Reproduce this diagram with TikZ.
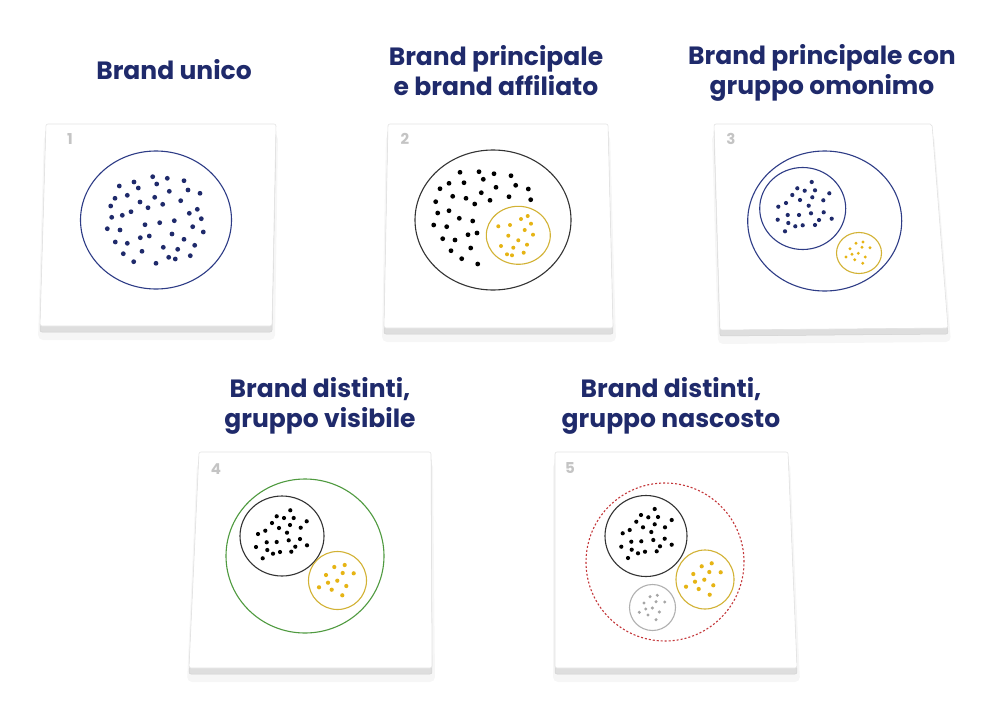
\documentclass[tikz,border=0pt]{standalone}
\usepackage{fontspec}
\setmainfont{Poppins}
\usepackage{xcolor}
\usepackage{tikz}
\usetikzlibrary{shapes.geometric}

\definecolor{titleblue}{HTML}{1F2A6B}
\definecolor{navyring}{HTML}{2E3C86}
\definecolor{navydot}{HTML}{1F2A6B}
\definecolor{blackring}{HTML}{333333}
\definecolor{golden}{HTML}{D2B234}
\definecolor{goldendot}{HTML}{E6B414}
\definecolor{greenring}{HTML}{4F9A3F}
\definecolor{redring}{HTML}{C4373A}
\definecolor{greyring}{HTML}{B0B0B0}
\definecolor{greydot}{HTML}{A6A6A6}
\definecolor{numgrey}{HTML}{C4C4C4}

\begin{document}
\begin{tikzpicture}[
    x=1pt, y=-1pt,
    title/.style={font=\bfseries\fontsize{25}{30}\selectfont, text=titleblue, align=center, anchor=base, inner sep=0pt},
    number/.style={font=\bfseries\fontsize{15}{15}\selectfont, text=numgrey, inner sep=0pt},
    face/.style={fill=white, draw=gray!22, line width=0.6pt, rounded corners=2pt},
    side/.style={fill=gray!26, draw=gray!36, line width=0.5pt, rounded corners=2pt},
    shade/.style={fill=black, opacity=0.035, rounded corners=5pt},
    ring/.style={ellipse, draw, line width=1.1pt, inner sep=0pt}
]
    \useasboundingbox (0,0) rectangle (1000,725);
    \fill[white] (0,0) rectangle (1000,725);

    % Titles (anchored at the baseline of the last line)
    \node[title] (t1) at (174,79) {Brand unico};
    \node[title] (t2) at (496,95) {Brand principale\\e brand affiliato};
    \node[title] (t3) at (822,94) {Brand principale con\\gruppo omonimo};
    \node[title] (t4) at (320,427) {Brand distinti,\\gruppo visibile};
    \node[title] (t5) at (671,427) {Brand distinti,\\gruppo nascosto};

    % Panels - shadow, side and top face
    \fill[shade] (44,134) -- (278,134) -- (275,340) -- (38,340) -- cycle;
    \filldraw[side] (46,130) -- (276,130) -- (272,332) -- (40,332) -- cycle;
    \filldraw[face] (46,124) -- (276,124) -- (272,326) -- (40,326) -- cycle;

    \fill[shade] (386,134) -- (610,134) -- (616,342) -- (382,342) -- cycle;
    \filldraw[side] (388,130) -- (608,130) -- (613,334) -- (384,334) -- cycle;
    \filldraw[face] (388,124) -- (608,124) -- (613,328) -- (384,328) -- cycle;

    \fill[shade] (712,134) -- (934,134) -- (951,342) -- (718,344) -- cycle;
    \filldraw[side] (714,130) -- (932,130) -- (948,334) -- (720,336) -- cycle;
    \filldraw[face] (714,124) -- (932,124) -- (948,328) -- (720,330) -- cycle;

    \fill[shade] (197,462) -- (433,462) -- (435,682) -- (187,682) -- cycle;
    \filldraw[side] (199,458) -- (431,458) -- (432,674) -- (189,674) -- cycle;
    \filldraw[face] (199,452) -- (431,452) -- (432,668) -- (189,668) -- cycle;

    \fill[shade] (553,462) -- (790,462) -- (800,682) -- (553,682) -- cycle;
    \filldraw[side] (555,458) -- (788,458) -- (797,674) -- (555,674) -- cycle;
    \filldraw[face] (555,452) -- (788,452) -- (797,668) -- (555,668) -- cycle;

    % Panel numbers
    \node[number] (n1) at (70,139) {1};
    \node[number] (n2) at (405,139) {2};
    \node[number] (n3) at (731,139) {3};
    \node[number] (n4) at (216,469) {4};
    \node[number] (n5) at (570,468) {5};

    % 1 - Brand unico
    \node[ring, draw=navyring, minimum width=151pt, minimum height=138pt] (ring1) at (156,220) {};
    \foreach \x/\y in {152.7/176.7, 167.3/178.3, 184/180.7, 119.3/186, 134/182, 138.3/188,
        156.7/184, 169.3/191.3, 188/190, 200/193.3, 115/198.3, 127.3/195.3, 154.7/197.3,
        140/202, 180.7/200.7, 110.7/206, 148/207.7, 162.7/204.3, 131/211.7, 189.3/213.3,
        197.3/209.3, 111.7/217.3, 122.3/215.3, 145/224.7, 159.7/222.7, 174.3/220.7,
        192.7/226.7, 201.3/218.7, 107.3/228.7, 120/230, 203.3/232, 140.3/237.7, 149.3/236,
        172/234, 184/239.3, 115.3/242, 127.3/243.3, 163.3/247.3, 177.7/249.3, 194.7/245.3,
        123.3/253.7, 142/251.3, 168.7/257.3, 175.3/259, 190.3/255.7, 133.7/261.7, 156/263.3}
        \fill[navydot] (\x,\y) circle (2.4);

    % 2 - Brand principale e brand affiliato
    \node[ring, draw=blackring, minimum width=156pt, minimum height=140pt] (ring2) at (493,220) {};
    \node[ring, draw=golden, minimum width=64pt, minimum height=58pt] (sub2) at (518.3,235.3) {};
    \foreach \x/\y in {460/172.3, 479/171.7, 494/173.7, 511/175.7, 449/183.3, 464/182.7,
        483.3/179.3, 496/187.3, 515.7/185.3, 528.3/189, 440/188.7, 452.7/196.3, 466/198.3,
        481.3/192.7, 490/200.3, 509/196.7, 530.7/199.7, 435.7/201.7, 474.7/204, 437.7/213,
        449/210.7, 459.3/218.3, 472.7/221, 433.7/225, 446.7/226.7, 468/234.7, 477/233,
        442.7/238.7, 455/240, 451/250.7, 470.7/248, 461.7/258.7, 477.7/264}
        \fill[black] (\x,\y) circle (2.4);
    \foreach \x/\y in {521/219, 527.7/216, 498.3/226.3, 510/225, 531/223.7, 524.7/230,
        508.3/235.7, 533/234.7, 518.3/240.3, 501/246, 513.3/247.7, 527/244.7, 507/254.3,
        512/255.3, 523.7/252.7}
        \fill[goldendot] (\x,\y) circle (2);

    % 3 - Brand principale con gruppo omonimo
    \node[ring, draw=navyring, minimum width=154pt, minimum height=140pt] (ring3) at (824.7,221) {};
    \node[ring, draw=navyring, minimum width=86pt, minimum height=82pt] (main3) at (802.7,208.5) {};
    \node[ring, draw=golden, minimum width=45pt, minimum height=41pt] (sub3) at (859,253) {};
    \foreach \x/\y in {811.7/182, 797.3/188.3, 804.7/190.7, 815/190.3, 792.3/195, 829.3/193.3,
        812.3/197.3, 786/203, 800/200, 823.3/200.3, 778.3/206.7, 808.7/205.7, 787.7/215,
        799/215, 811/213.3, 823.7/212.3, 777.7/219.7, 788.3/223, 819/220, 831.7/218.7,
        795.3/226.3, 802.7/225.3, 815/225, 785/231.3}
        \fill[navydot] (\x,\y) circle (2.1);
    \foreach \x/\y in {856/243.3, 863/242, 850/248.7, 862/247.3, 870/247.7, 852/254.3,
        858.3/253.3, 846/257, 865.3/257, 854.7/259.7, 862.7/263.3}
        \fill[goldendot] (\x,\y) circle (1.6);

    % 4 - Brand distinti, gruppo visibile
    \node[ring, draw=greenring, minimum width=158pt, minimum height=154pt] (ring4) at (305,556) {};
    \node[ring, draw=blackring, minimum width=84pt, minimum height=80pt] (main4) at (282,536) {};
    \node[ring, draw=golden, minimum width=58pt, minimum height=58pt] (sub4) at (337.5,580.5) {};
    \foreach \x/\y in {290.3/510.3, 276.7/516.3, 284/518, 293.7/518, 272/523, 306.7/521.3,
        290/525, 279/528, 265.3/530.7, 300.7/527.7, 258/534, 287/532.7, 266.7/542.3,
        276.7/542, 288.7/540.3, 300/539, 256/547, 267.3/550, 295.3/546.7, 307/545.3,
        273/553.7, 280/552, 291.3/551.7, 262.7/558.3}
        \fill[black] (\x,\y) circle (2.1);
    \foreach \x/\y in {334.3/567, 344.7/565, 326/575, 342.7/573, 353.7/573.3, 328/582.7,
        337.3/580.7, 319/587.3, 346.3/586, 331.7/589.7, 342.3/595.3}
        \fill[goldendot] (\x,\y) circle (2.1);

    % 5 - Brand distinti, gruppo nascosto
    \node[ring, draw=redring, dash pattern=on 2pt off 2pt, minimum width=158pt, minimum height=158pt] (ring5) at (665,562) {};
    \node[ring, draw=blackring, minimum width=82pt, minimum height=81pt] (main5) at (646,536) {};
    \node[ring, draw=golden, minimum width=58pt, minimum height=59pt] (sub5) at (705,579.5) {};
    \node[ring, draw=greyring, minimum width=46pt, minimum height=46pt] (hid5) at (652.5,607.5) {};
    \foreach \x/\y in {654.7/509, 641/515, 648.3/517.3, 658/517, 636.3/521.7, 671.7/520,
        654.7/524.3, 643/527.3, 629.7/530, 665/527.3, 622.7/533.3, 651.3/532, 631.3/541.7,
        641.3/541.3, 653.3/540, 664.7/538.7, 621.3/546.7, 631.7/549.7, 660/546.3,
        671.7/544.7, 638/553.3, 645/551.7, 656.7/551.3, 628/558}
        \fill[black] (\x,\y) circle (2.1);
    \foreach \x/\y in {701.7/566.3, 711.7/563.3, 693.3/574, 709.3/572, 720.7/572.3,
        695/581.7, 704.3/579.7, 686/586.7, 713.3/585.3, 698.7/589, 709.7/594.7}
        \fill[goldendot] (\x,\y) circle (2.1);
    \foreach \x/\y in {650/596.7, 657.3/595.3, 644/603, 656/601.7, 664.7/602, 645.7/609,
        652.3/608, 639.3/612.3, 659.3/612, 648/615, 656/619.7}
        \fill[greydot] (\x,\y) circle (1.7);
\end{tikzpicture}
\end{document}
